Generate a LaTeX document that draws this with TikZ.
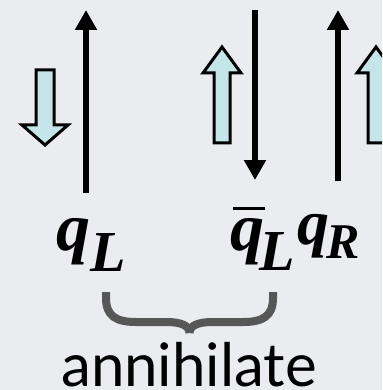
\documentclass[tikz,border=0pt]{standalone}
\usepackage{fontspec}
\usetikzlibrary{arrows.meta}
\setmainfont{Liberation Serif}
\newfontfamily\labfont{Lato}
\definecolor{bgc}{RGB}{235,236,240}
\definecolor{spinfill}{RGB}{197,230,232}
\definecolor{bracec}{RGB}{87,87,87}
\tikzset{
  line/.style={line width=5.5pt,-{Triangle[width=21pt,length=20pt]}},
  spin/.style={draw=black,line width=3pt,fill=spinfill,line join=miter},
  txt/.style={inner sep=0pt,anchor=base west},
  bracestyle/.style={draw=bracec,line width=8pt,line cap=butt}
}
\begin{document}
\begin{tikzpicture}[x=1pt,y=-1pt]
\useasboundingbox (0,0) rectangle (382,390);
\fill[bgc] (0,0) rectangle (382,390);
% labels
\node[txt,font=\bfseries\itshape\fontsize{68}{68}\selectfont] (q1) at (56,250) {q};
\node[txt,font=\bfseries\itshape\fontsize{58}{58}\selectfont] (L1) at (90,271) {L};
\node[txt,font=\bfseries\itshape\fontsize{68}{68}\selectfont] (q2) at (230,250) {q};
\node[txt,font=\bfseries\itshape\fontsize{58}{58}\selectfont] (L2) at (259,270) {L};
\node[txt,font=\bfseries\itshape\fontsize{64}{64}\selectfont] (q3) at (297,244) {q};
\node[txt,font=\bfseries\itshape\fontsize{50}{50}\selectfont] (R3) at (326,258) {R};
\node[txt,font=\labfont\fontsize{60}{60}\selectfont] (ann) at (61,386) {annihilate};
\draw[line width=3pt] (233,208) -- (265,208);
% long lines
\coordinate (l1a) at (86,193); \coordinate (l1b) at (86,10);
\coordinate (l2a) at (255,10); \coordinate (l2b) at (255,180);
\coordinate (l3a) at (338,181); \coordinate (l3b) at (338,10);
\draw[line] (l1a) -- (l1b);
\draw[line] (l2a) -- (l2b);
\draw[line] (l3a) -- (l3b);
% spin arrows
\draw[spin] (36,70) -- (54,70) -- (54,125) -- (68,125) -- (45,145) -- (22,125) -- (36,125) -- cycle;
\draw[spin] (214,143) -- (230,143) -- (230,73) -- (241,73) -- (222,47) -- (203,73) -- (214,73) -- cycle;
\begin{scope}
\clip (0,0) rectangle (382,390);
\draw[spin] (368,143) -- (384,143) -- (384,73) -- (395,73) -- (376,47) -- (357,73) -- (368,73) -- cycle;
\end{scope}
% brace
\draw[bracestyle] (106,292) -- (106,298) .. controls (106,316) and (116,322) .. (136,322) -- (166,322) .. controls (182,322) and (189.5,326) .. (189.5,333);
\draw[bracestyle] (273,292) -- (273,298) .. controls (273,316) and (263,322) .. (243,322) -- (213,322) .. controls (197,322) and (189.5,326) .. (189.5,333);
\end{tikzpicture}
\end{document}
